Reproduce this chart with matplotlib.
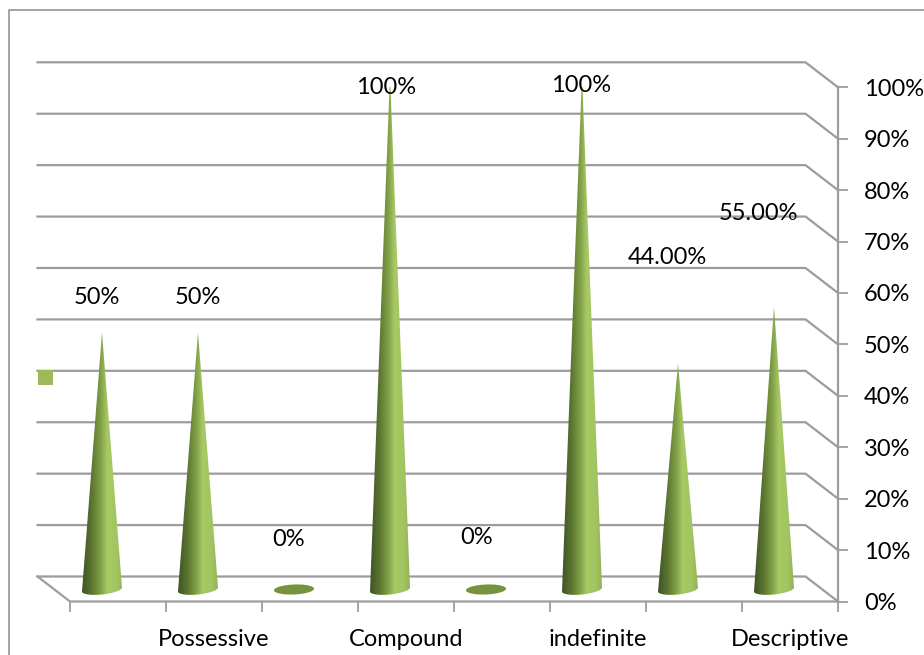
#!/usr/bin/python
import numpy as np
import matplotlib
matplotlib.use('Agg')
import matplotlib.pyplot as plt
from matplotlib.colors import LinearSegmentedColormap
from matplotlib.lines import Line2D
from matplotlib.patches import PathPatch, Polygon, Rectangle
from matplotlib.path import Path
from matplotlib.transforms import Affine2D

plt.rcParams['font.family'] = ['Lato', 'DejaVu Sans']

#-----------------------
# Data
#-----------------------

categories = ['', 'Possessive', '', 'Compound', '', 'indefinite', '', 'Descriptive']
values = [50, 50, 0, 100, 0, 100, 44, 55]
value_labels = ['50%', '50%', '0%', '100%', '0%', '100%', '44.00%', '55.00%']
ytick_values = np.arange(0, 101, 10)

#-----------------------
# Layout (pixels, y down)
#-----------------------

W, H = 924, 655
X0, X1 = 70, 838       # front edge of floor
Y0, Y100 = 601.5, 87.3 # 0% and 100% on front axis
DX, DY = 32.5, 25      # depth of back wall
label_xy = [(97, 298), (198, 298), (289, 540), (386, 88), (477, 537), (581, 85), (667, 258), (758, 214)]

fs = 17
grey = '#9c9c9c'
lw = 1.6

fig = plt.figure(figsize=(W/100., H/100.), dpi=100)
ax = fig.add_axes([X0/W, 1-Y0/H, (X1-X0)/W, (Y0-Y100)/H])
ax.set_xlim(0, len(values))
ax.set_ylim(0, 100)
ax.set_axis_off()

px = Affine2D().scale(1, -1).translate(0, H) # pixels from top left corner
xunit = (X1-X0)/len(values)
yunit = (Y0-Y100)/100.
dx, dy = DX/xunit, DY/yunit

### Outer frame
fig.add_artist(Line2D([W, 9, 9], [10, 10, H], transform=px, color=grey, lw=1.3))

### Walls, floor
for v in ytick_values:
    ax.plot([-dx, len(values)-dx, len(values)], [v+dy, v+dy, v], color=grey, lw=lw, clip_on=False, solid_joinstyle='miter')
ax.plot([-dx, 0, len(values)], [dy, 0, 0], color=grey, lw=lw, clip_on=False)
ax.plot([len(values), len(values)], [0, 100], color=grey, lw=lw, clip_on=False)

### Ticks
tx = 9/xunit
ty = 9/yunit
for i in range(len(values)+1):
    ax.plot([i, i], [0, -ty], color=grey, lw=lw*0.8, clip_on=False)
for v in ytick_values:
    ax.plot([len(values), len(values)+tx], [v, v], color=grey, lw=lw*0.8, clip_on=False)
    ax.text(len(values)+26/xunit, v-2/yunit, '%i%%'%(v), ha='left', va='center', fontsize=fs, color='k', clip_on=False)

for i, c in enumerate(categories):
    ax.text(i+0.5, -37.5/yunit, c, ha='center', va='center', fontsize=fs, color='k', clip_on=False)

### Cones
cone_cmap = LinearSegmentedColormap.from_list('cone', [(0, '#3f5426'), (0.2, '#566f2e'), (0.45, '#7f9e45'),
                                                       (0.62, '#a7ca65'), (0.85, '#a3c561'), (1, '#93b255')])
grad = np.linspace(0, 1, 256)[None, :]
halfw = 20/xunit
halfh = 5/yunit
tilt = 2/yunit
cx_off = -16/xunit
base = 12/yunit # base centre above the 0% front line
th = np.linspace(np.pi, 2*np.pi, 40)
th_all = np.linspace(0, 2*np.pi, 80)

for i, v in enumerate(values):
    cx = i+0.5+cx_off
    if v == 0:
        ell = np.column_stack((cx+halfw*np.cos(th_all), base+halfh*np.sin(th_all)+tilt*0.4*np.cos(th_all)))
        ax.add_patch(Polygon(ell, closed=True, facecolor='#76923c', edgecolor='none', clip_on=False, zorder=3))
        continue
    verts = [(cx, base+v)] + [(cx+halfw*np.cos(t), base+halfh*np.sin(t)+tilt*np.cos(t)) for t in th] + [(cx, base+v)]
    codes = [Path.MOVETO] + [Path.LINETO]*(len(verts)-2) + [Path.CLOSEPOLY]
    clip = PathPatch(Path(verts, codes), transform=ax.transData, facecolor='none', edgecolor='none')
    ax.add_patch(clip)
    im = ax.imshow(grad, cmap=cone_cmap, extent=[cx-halfw, cx+halfw, base-halfh-tilt, base+v], aspect='auto', zorder=3, vmin=0, vmax=1)
    im.set_clip_path(clip)

ax.set_xlim(0, len(values))
ax.set_ylim(0, 100)

### Value labels
for (lx, ly), s in zip(label_xy, value_labels):
    fig.text(lx, ly, s, transform=px, ha='center', va='center', fontsize=fs, color='k', zorder=5)

### Legend key
fig.add_artist(Rectangle((38, 370), 15, 15, transform=px, facecolor='#9bbb59', edgecolor='none'))

plt.savefig('out.png', dpi=100)
